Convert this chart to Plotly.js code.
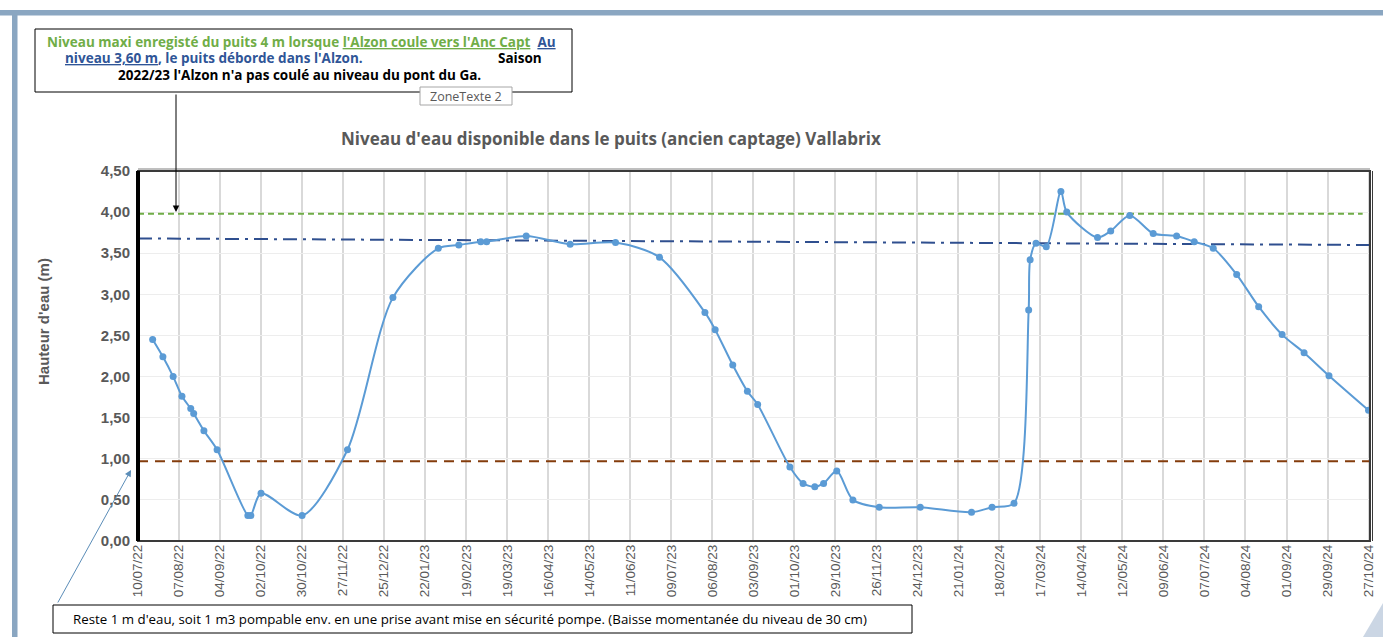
<!DOCTYPE html>
<html>
<head>
<meta charset="utf-8">
<script src="https://cdn.plot.ly/plotly-3.0.1.min.js"></script>
<style>html,body{margin:0;padding:0;background:#fff;}#chart{width:1383px;height:637px;}</style>
</head>
<body>
<div id="chart"></div>
<script>
// ---- Data ----
const dates = [
  '2022-07-20','2022-07-27','2022-08-03','2022-08-09','2022-08-15','2022-08-17','2022-08-24','2022-09-02',
  '2022-09-23','2022-09-25','2022-10-02','2022-10-30','2022-11-30','2022-12-31','2023-01-31',
  '2023-02-14','2023-03-01','2023-03-05','2023-04-01','2023-05-01','2023-06-01','2023-07-01',
  '2023-08-01','2023-08-08','2023-08-20','2023-08-30','2023-09-06','2023-09-28','2023-10-07',
  '2023-10-15','2023-10-21','2023-10-30','2023-11-10','2023-11-28','2023-12-26',
  '2024-01-30','2024-02-13','2024-02-28','2024-03-09','2024-03-10','2024-03-14','2024-03-21',
  '2024-03-31','2024-04-04','2024-04-25','2024-05-04','2024-05-17','2024-06-02','2024-06-18',
  '2024-06-30','2024-07-13','2024-07-29','2024-08-13','2024-08-29','2024-09-13','2024-09-30','2024-10-27'
];
const levels = [
  2.45,2.24,2.00,1.76,1.61,1.55,1.34,1.11,
  0.31,0.31,0.58,0.31,1.11,2.96,3.56,
  3.60,3.64,3.64,3.71,3.61,3.63,3.45,
  2.78,2.57,2.14,1.82,1.66,0.90,0.70,
  0.66,0.70,0.85,0.50,0.41,0.41,
  0.35,0.41,0.46,2.81,3.42,3.62,3.58,
  4.25,4.00,3.69,3.77,3.96,3.74,3.71,
  3.64,3.56,3.24,2.85,2.51,2.29,2.01,1.59
];
const maxLevelX = ['2022-07-10','2024-10-23'];
const maxLevelY = [3.98, 3.98];
const overflowX = ['2022-07-10','2024-10-28'];
const overflowY = [3.68, 3.60];
const safetyX = ['2022-07-10','2024-10-28'];
const safetyY = [0.97, 0.97];

const chartTitle = "Niveau d'eau disponible dans le puits (ancien captage) Vallabrix";
const yTitle = "Hauteur d'eau (m)";
const noteTop1 = "<span style='color:#70AD47'><b>Niveau maxi enregisté du puits 4 m lorsque <u>l'Alzon coule vers l'Anc Capt</u></b></span>  <span style='color:#2F5597'><b><u>Au</u></b></span>";
const noteTop2a = "<span style='color:#2F5597'><b><u>niveau 3,60 m</u>, le puits déborde dans l'Alzon.</b></span>";
const noteTop2b = "<b>Saison</b>";
const noteTop3 = "<b>2022/23 l'Alzon n'a pas coulé au niveau du pont du Ga.</b>";
const zoneLabel = "ZoneTexte 2";
const noteBottom = "Reste 1 m d'eau, soit 1 m3 pompable env. en une prise avant mise en sécurité pompe. (Baisse momentanée du niveau de 30 cm)";

// ---- pixel helpers (layout only) ----
const L = 138, R = 1370, T = 171, B = 541;
const px = x => (x - L) / (R - L);
const py = y => (B - y) / (B - T);

const traces = [
  {x: maxLevelX, y: maxLevelY, mode: 'lines', line: {color: '#70AD47', width: 2, dash: '6px,4px'}, hoverinfo: 'skip'},
  {x: overflowX, y: overflowY, mode: 'lines', line: {color: '#2F4F8F', width: 2, dash: '14px,6px,3px,6px'}, hoverinfo: 'skip'},
  {x: safetyX, y: safetyY, mode: 'lines', line: {color: '#843C0C', width: 2, dash: '10px,7px'}, hoverinfo: 'skip'},
  {x: dates, y: levels, mode: 'lines+markers', line: {color: '#5B9BD5', width: 2, shape: 'spline', smoothing: 0.8},
   marker: {color: '#5B9BD5', size: 7}}
];

const OS = '"Open Sans", Lato, sans-serif';
const annFont = {family: OS, size: 13.5, color: '#000'};
const annotations = [
  {xref: 'paper', yref: 'paper', x: px(611), y: py(138), text: '<b>' + chartTitle + '</b>', showarrow: false,
   font: {family: OS, size: 17, color: '#595959'}, xanchor: 'center', yanchor: 'middle'},
  {xref: 'paper', yref: 'paper', x: px(43), y: py(322), text: '<b>' + yTitle + '</b>', showarrow: false, textangle: -90,
   font: {family: '"Liberation Sans", Arial, sans-serif', size: 15, color: '#595959'}, xanchor: 'center', yanchor: 'middle'},
  {xref: 'paper', yref: 'paper', x: px(45), y: py(42), text: noteTop1, showarrow: false, font: annFont, xanchor: 'left', yanchor: 'middle'},
  {xref: 'paper', yref: 'paper', x: px(63), y: py(58), text: noteTop2a, showarrow: false, font: annFont, xanchor: 'left', yanchor: 'middle'},
  {xref: 'paper', yref: 'paper', x: px(496), y: py(58), text: noteTop2b, showarrow: false, font: annFont, xanchor: 'left', yanchor: 'middle'},
  {xref: 'paper', yref: 'paper', x: px(116), y: py(75), text: noteTop3, showarrow: false, font: annFont, xanchor: 'left', yanchor: 'middle'},
  {xref: 'paper', yref: 'paper', x: px(466), y: py(96), text: zoneLabel, showarrow: false,
   font: {family: OS, size: 12.5, color: '#595959'}, xanchor: 'center', yanchor: 'middle'},
  {xref: 'paper', yref: 'paper', x: px(470), y: py(619), text: noteBottom, showarrow: false,
   font: {family: OS, size: 13.3, color: '#000'}, xanchor: 'center', yanchor: 'middle'},
  // black arrow to max level line
  {xref: 'paper', yref: 'paper', x: px(176), y: py(212), text: '', showarrow: true, ax: 0, ay: -119,
   arrowcolor: '#000', arrowwidth: 1, arrowhead: 2, arrowsize: 1.3},
  // blue arrow to safety line
  {xref: 'paper', yref: 'paper', x: px(131), y: py(470), text: '', showarrow: true, ax: -74, ay: 134,
   arrowcolor: '#5B8DB8', arrowwidth: 1, arrowhead: 2, arrowsize: 1.3}
];

const shapes = [
  // page frame bands
  {type: 'rect', xref: 'paper', yref: 'paper', x0: px(0), x1: px(1383), y0: py(10), y1: py(15.5), fillcolor: '#8AA6C1', line: {width: 0}, layer: 'below'},
  {type: 'rect', xref: 'paper', yref: 'paper', x0: px(12), x1: px(17.5), y0: py(10), y1: py(637), fillcolor: '#8AA6C1', line: {width: 0}, layer: 'below'},
  {type: 'path', xref: 'paper', yref: 'paper', path: `M ${px(1363)} ${py(637)} L ${px(1383)} ${py(603)} L ${px(1383)} ${py(637)} Z`, fillcolor: '#CBD6E4', line: {width: 0}},
  // top note box
  {type: 'rect', xref: 'paper', yref: 'paper', x0: px(35), x1: px(572), y0: py(29), y1: py(92), line: {color: '#000', width: 1}, fillcolor: 'rgba(0,0,0,0)'},
  // ZoneTexte label
  {type: 'rect', xref: 'paper', yref: 'paper', x0: px(420), x1: px(512), y0: py(87), y1: py(105), line: {color: '#A6A6A6', width: 1}, fillcolor: '#fff'},
  // bottom note box
  {type: 'rect', xref: 'paper', yref: 'paper', x0: px(53), x1: px(912), y0: py(605), y1: py(633), line: {color: '#000', width: 1}, fillcolor: '#fff'},
  // plot frame
  {type: 'rect', xref: 'paper', yref: 'paper', x0: 0, x1: 1, y0: 0, y1: 1, line: {color: '#3A3A3A', width: 2}},
  {type: 'line', xref: 'paper', yref: 'paper', x0: 0, x1: 1, y0: py(169), y1: py(169), line: {color: '#7F7F7F', width: 1}},
  {type: 'line', xref: 'paper', yref: 'paper', x0: px(1372.5), x1: px(1372.5), y0: 0, y1: 1, line: {color: '#3A3A3A', width: 1}},
  {type: 'line', xref: 'paper', yref: 'paper', x0: 0, x1: 0, y0: 0, y1: 1, line: {color: '#000', width: 4}}
];

const layout = {
  width: 1383, height: 637,
  margin: {l: L, r: 1383 - R, t: T, b: 637 - B, pad: 0},
  paper_bgcolor: '#fff', plot_bgcolor: '#fff',
  showlegend: false,
  separators: ', ',
  xaxis: {
    type: 'date', range: ['2022-07-10', '2024-10-28'],
    tick0: '2022-07-10', dtick: 28 * 86400000, tickformat: '%d/%m/%y', tickangle: -90,
    showgrid: true, gridcolor: '#D9D9D9', gridwidth: 2, zeroline: false, showline: false, ticks: '',
    tickfont: {family: '"Liberation Sans", Arial, sans-serif', size: 13.5, color: '#595959'}
  },
  yaxis: {
    range: [0, 4.5], dtick: 0.5, tick0: 0, tickformat: '.2f',
    showgrid: true, gridcolor: '#EDEDED', gridwidth: 1, zeroline: false, showline: false, ticks: '',
    ticklabelstandoff: 7,
    tickfont: {family: '"Liberation Sans", Arial, sans-serif', size: 15, color: '#595959', weight: 'bold'}
  },
  annotations: annotations,
  shapes: shapes
};

Plotly.newPlot('chart', traces, layout, {displayModeBar: false, staticPlot: true});
</script>
</body>
</html>
